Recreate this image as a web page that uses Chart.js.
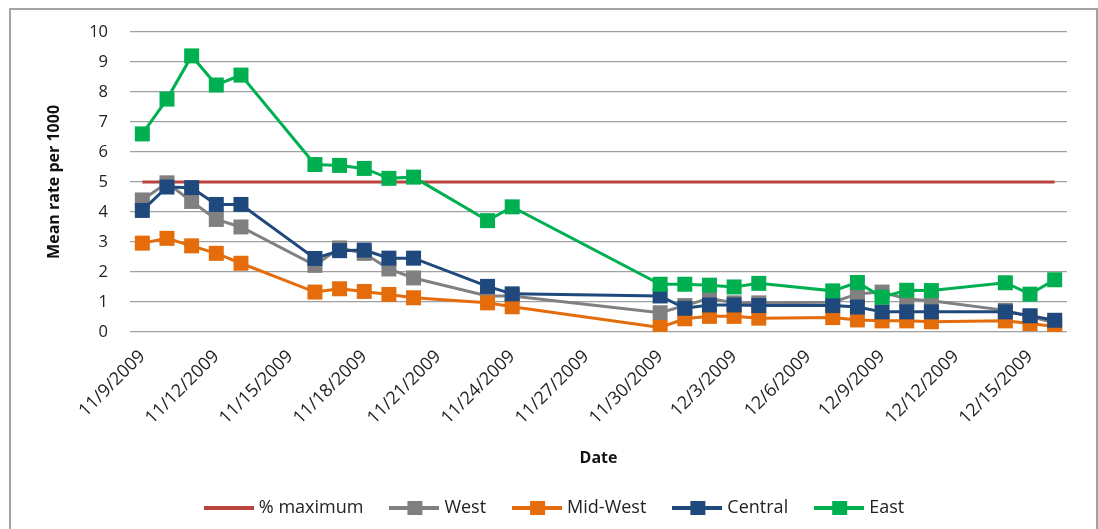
<!DOCTYPE html>
<html>
<head>
<meta charset="utf-8">
<script src="https://cdn.jsdelivr.net/npm/chart.js@4"></script>
<style>
  html, body { margin: 0; padding: 0; background: #fff; }
  #wrap { position: relative; width: 1098px; height: 529px; }
</style>
</head>
<body>
<div id="wrap"><canvas id="graph"></canvas></div>
<script>
// data
const dates = ["11/9/2009", "11/10/2009", "11/11/2009", "11/12/2009", "11/13/2009",
  "11/16/2009", "11/17/2009", "11/18/2009", "11/19/2009", "11/20/2009",
  "11/23/2009", "11/24/2009", "11/30/2009", "12/1/2009", "12/2/2009",
  "12/3/2009", "12/4/2009", "12/7/2009", "12/8/2009", "12/9/2009",
  "12/10/2009", "12/11/2009", "12/14/2009", "12/15/2009", "12/16/2009"];
const tickLabels = ["11/9/2009", "11/12/2009", "11/15/2009", "11/18/2009", "11/21/2009",
  "11/24/2009", "11/27/2009", "11/30/2009", "12/3/2009", "12/6/2009",
  "12/9/2009", "12/12/2009", "12/15/2009"];
const maxPct = [5, 5, 5, 5, 5, 5, 5, 5, 5, 5, 5, 5, 5, 5, 5, 5, 5, 5, 5, 5, 5, 5, 5, 5, 5];
const west = [4.4, 4.97, 4.35, 3.75, 3.5, 2.22, 2.8, 2.62, 2.1, 1.8, 1.2, 1.2, 0.64, 0.88,
  1.12, 0.97, 0.97, 0.99, 1.27, 1.33, 1.1, 1.04, 0.72, 0.52, 0.3];
const midWest = [2.96, 3.12, 2.87, 2.62, 2.29, 1.33, 1.44, 1.35, 1.25, 1.14, 0.97, 0.84, 0.15,
  0.44, 0.52, 0.52, 0.46, 0.48, 0.4, 0.37, 0.37, 0.34, 0.37, 0.28, 0.18];
const central = [4.05, 4.83, 4.81, 4.25, 4.25, 2.45, 2.71, 2.73, 2.46, 2.46, 1.52, 1.27, 1.2,
  0.79, 0.9, 0.9, 0.88, 0.88, 0.83, 0.67, 0.67, 0.67, 0.67, 0.54, 0.39];
const east = [6.6, 7.76, 9.2, 8.23, 8.56, 5.58, 5.55, 5.45, 5.12, 5.16, 3.71, 4.17, 1.59,
  1.59, 1.56, 1.5, 1.62, 1.37, 1.65, 1.16, 1.39, 1.38, 1.64, 1.26, 1.74];

const FONT = "'Open Sans', 'Noto Sans', sans-serif";

// day number counted from the first date
const day0 = Date.UTC(2009, 10, 9);
function toDay(s) {
  const [m, d, y] = s.split("/").map(Number);
  return Math.round((Date.UTC(y, m - 1, d) - day0) / 86400000);
}
function fromDay(n) {
  const dt = new Date(day0 + n * 86400000);
  return (dt.getUTCMonth() + 1) + "/" + dt.getUTCDate() + "/" + dt.getUTCFullYear();
}
const pts = (vals) => vals.map((v, i) => ({ x: toDay(dates[i]), y: v }));

function series(label, vals, color, marker) {
  return {
    label: label,
    data: pts(vals),
    borderColor: color,
    backgroundColor: color,
    borderWidth: 3,
    pointStyle: "rect",
    pointRadius: marker ? 10.6 : 0,
    pointHoverRadius: marker ? 10.6 : 0,
    pointBorderWidth: 0,
    tension: 0,
  };
}

// legend swatch: a short line with a square on it
function swatch(color, marker) {
  const c = document.createElement("canvas");
  c.width = 50;
  c.height = 16;
  const g = c.getContext("2d");
  g.fillStyle = color;
  g.fillRect(0, 6, 50, 4);
  if (marker) g.fillRect(18, 1, 15, 14);
  return c;
}

const frame = {
  id: "frame",
  beforeDraw(chart) {
    const g = chart.ctx;
    g.save();
    g.strokeStyle = "#a3a3a3";
    g.lineWidth = 2;
    g.strokeRect(10, 9, 1087, 540);
    g.restore();
  },
};

// datasets listed last-on-top first, so East is drawn over the others
const datasets = [
  series("East", east, "#00b050", true),
  series("Central", central, "#1f497d", true),
  series("Mid-West", midWest, "#e46c0a", true),
  series("West", west, "#808080", true),
  series("% maximum", maxPct, "#b94440", false),
];

new Chart(document.getElementById("graph"), {
  type: "line",
  data: { datasets: datasets },
  plugins: [frame],
  options: {
    responsive: true,
    maintainAspectRatio: false,
    animation: false,
    layout: { padding: { left: 45, right: 31, top: 19, bottom: 2 } },
    plugins: {
      tooltip: { enabled: false },
      legend: {
        position: "bottom",
        labels: {
          usePointStyle: true,
          pointStyleWidth: 42,
          padding: 30,
          color: "#222",
          font: { family: FONT, size: 18 },
          generateLabels(chart) {
            return chart.data.datasets.map((ds, i) => ({
              text: ds.label,
              datasetIndex: i,
              fontColor: "#222",
              pointStyle: swatch(ds.borderColor, ds.pointRadius > 0),
              lineWidth: 0,
              strokeStyle: "transparent",
              fillStyle: ds.borderColor,
            })).reverse();
          },
        },
      },
    },
    scales: {
      x: {
        type: "linear",
        min: -0.5,
        max: 37.5,
        afterBuildTicks(axis) {
          axis.ticks = tickLabels.map((t) => ({ value: toDay(t) }));
        },
        grid: { display: false },
        border: { display: false },
        ticks: {
          autoSkip: false,
          minRotation: 45,
          maxRotation: 45,
          padding: 6,
          color: "#222",
          font: { family: FONT, size: 18 },
          callback: (v) => fromDay(v),
        },
        title: {
          display: true,
          text: "Date",
          color: "#111",
          font: { family: FONT, size: 16, weight: "bold" },
          padding: { top: 14, bottom: 1 },
        },
      },
      y: {
        min: 0,
        max: 10,
        afterFit(scale) {
          scale.width = 85;
        },
        grid: {
          color: "#a0a0a0",
          lineWidth: 1.3,
          drawTicks: false,
        },
        border: { display: false },
        ticks: {
          stepSize: 1,
          padding: 22,
          color: "#222",
          font: { family: FONT, size: 16.5 },
        },
        title: {
          display: true,
          text: "Mean rate per 1000",
          color: "#111",
          font: { family: FONT, size: 16, weight: "bold" },
          padding: { top: 0, bottom: 24 },
        },
      },
    },
  },
});
</script>
</body>
</html>
